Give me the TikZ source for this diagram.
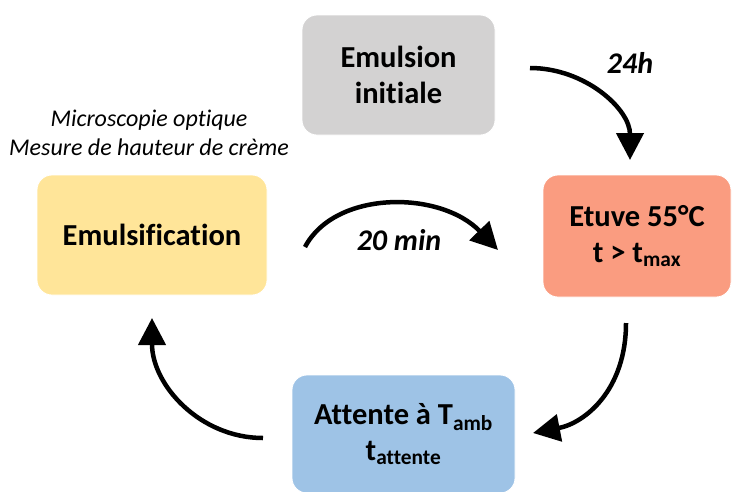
\documentclass[tikz,border=0pt]{standalone}
\usepackage{fontspec}
\setmainfont{Carlito}[Ligatures=NoCommon]
\usetikzlibrary{arrows.meta, positioning}
\definecolor{boxgray}{RGB}{211,210,210}
\definecolor{boxsalmon}{RGB}{250,156,128}
\definecolor{boxblue}{RGB}{158,195,230}
\definecolor{boxyellow}{RGB}{255,229,153}
\tikzstyle{etape} = [rectangle, rounded corners=15pt, draw=white, line width=0.8pt, align=center, inner sep=0pt, font=\bfseries\fontsize{30.5}{36}\selectfont]
\tikzstyle{arrow} = [-{Triangle[length=27pt, width=27pt]}, line width=4.5pt]
\tikzstyle{duree} = [font=\bfseries\itshape\fontsize{30}{34}\selectfont]

\begin{document}
\begin{tikzpicture}[x=1pt, y=-1pt]
    \useasboundingbox (0,0) rectangle (733,491);

    % Etapes
    \node[etape, fill=boxgray, minimum width=193pt, minimum height=120pt] (init) at (398.5,75) {Emulsion\\initiale};
    \node[etape, fill=boxsalmon, minimum width=188pt, minimum height=122pt] (etuve) at (637,236) {Etuve 55°C\\t > t\textsubscript{max}};
    \node[etape, fill=boxblue, minimum width=223pt, minimum height=118pt] (attente) at (403.5,434) {Attente à T\textsubscript{amb}\\t\textsubscript{attente}};
    \node[etape, fill=boxyellow, minimum width=230pt, minimum height=120pt] (emuls) at (152,235) {Emulsification};

    % Mesures
    \node[font=\itshape\fontsize{24}{29}\selectfont, align=center] (mesures) at (149,133) {Microscopie optique\\Mesure de hauteur de crème};

    % Fleches du cycle
    \coordinate (a1) at (530,68);  \coordinate (b1) at (630,160);
    \coordinate (a2) at (305,247); \coordinate (b2) at (498,250);
    \coordinate (a3) at (626,323); \coordinate (b3) at (533,433);
    \coordinate (a4) at (263,438); \coordinate (b4) at (152,318);
    \draw[arrow] (a1) .. controls (585,68) and (630,109) .. (b1);
    \draw[arrow] (a2) .. controls (335,190) and (440,190) .. (b2);
    \draw[arrow] (a3) .. controls (626,390) and (585,423) .. (b3);
    \draw[arrow] (a4) .. controls (200,438) and (152,385) .. (b4);

    % Durees
    \node[duree] (t24) at (630,63) {24h};
    \node[duree] (t20) at (399,240) {20 min};
\end{tikzpicture}
\end{document}
